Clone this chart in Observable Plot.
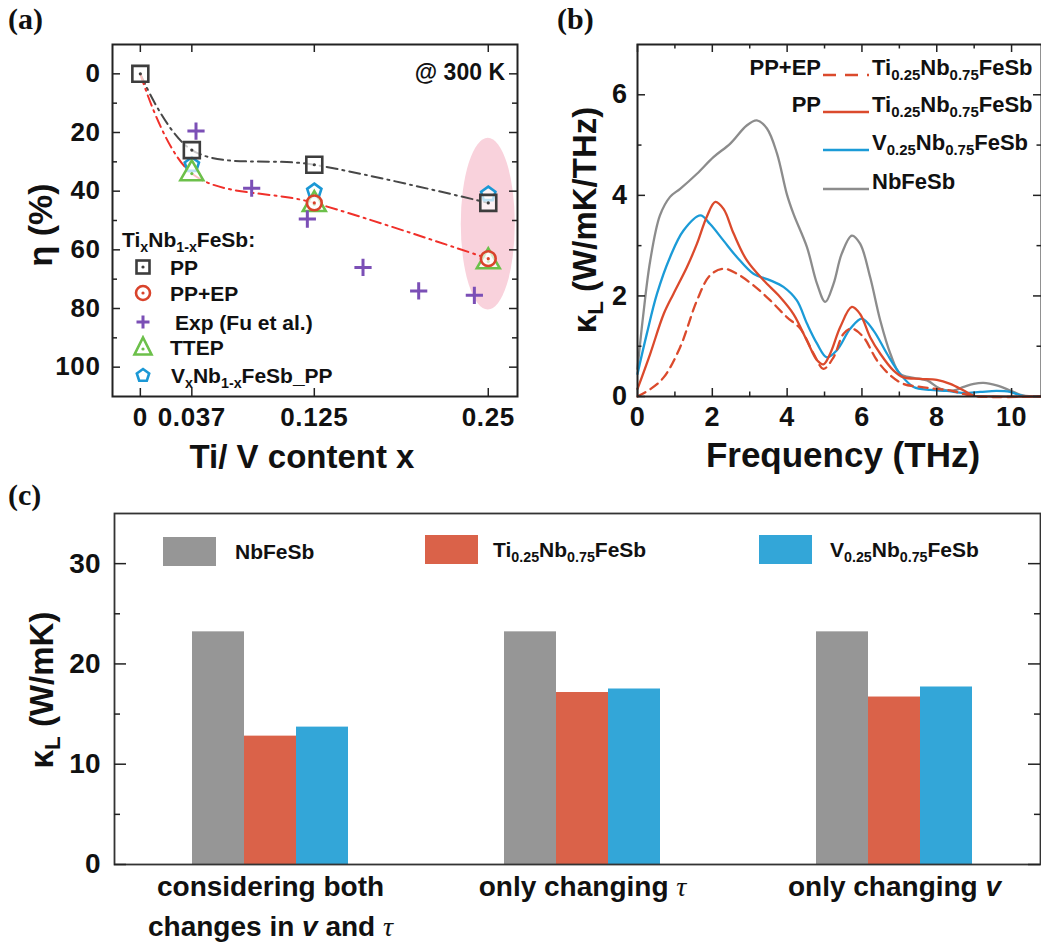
<!DOCTYPE html>
<html><head><meta charset="utf-8">
<script src="https://cdn.jsdelivr.net/npm/d3@7"></script>
<script src="https://cdn.jsdelivr.net/npm/@observablehq/plot@0.6"></script>
<style>
body{margin:0;background:#fff;}
#root{position:relative;width:1041px;height:947px;overflow:hidden;font-family:"Liberation Sans",Arial,sans-serif;font-weight:bold;color:#111;}
.abs{position:absolute;white-space:nowrap;line-height:1;}
.sub{font-size:0.68em;vertical-align:-0.32em;line-height:0;}
.panel{font-family:"Liberation Serif","Times New Roman",serif;font-weight:bold;font-size:30px;}
.plot{position:absolute;}
</style></head><body><div id="root"></div>
<script>
// ================= DATA =================
// Panel (a): eta (%) vs Ti/V content x
const xPP = [0, 0.037, 0.125, 0.25];
const etaPP = [0, 26, 31, 44];
const xPPEPfit = [0, 0.037, 0.125, 0.25];
const etaPPEPfit = [0, 34, 44, 63];
const xPPEP = [0.125, 0.25];
const etaPPEP = [44, 63];
const xExp = [0.040, 0.080, 0.120, 0.160, 0.200, 0.240];
const etaExp = [19.5, 39, 49.5, 66, 74, 75.5];
const xTTEP = [0.037, 0.125, 0.25];
const etaTTEP = [34, 44.5, 64];
const xVPP = [0.037, 0.125, 0.25];
const etaVPP = [31, 40, 41];
const highlightX = [0.2306, 0.2694];
const highlightEta = [22, 80.5];
const xTicksA = [0, 0.037, 0.125, 0.25];
const etaTicks = [0, 20, 40, 60, 80, 100];
const etaMinor = [10, 30, 50, 70, 90];

// Panel (b): spectral kappa_L vs frequency
const freqNb = [0, 0.15, 0.34, 0.6, 0.87, 1.14, 1.59, 2.03, 2.48, 2.92, 3.19, 3.46, 3.73, 3.99, 4.17, 4.53, 4.8, 5.02, 5.24, 5.46, 5.73, 5.95, 6.22, 6.49, 6.76, 7.02, 7.38, 7.74, 8.1, 8.45, 8.72, 8.99, 9.25, 9.6, 9.96, 10.3, 10.8];
const kNb    = [0.55, 1.6, 2.7, 3.6, 3.97, 4.13, 4.43, 4.76, 5.03, 5.39, 5.49, 5.33, 4.83, 4.03, 3.63, 2.97, 2.24, 1.88, 2.24, 2.84, 3.2, 3.04, 2.37, 1.51, 0.85, 0.45, 0.37, 0.32, 0.15, 0.12, 0.19, 0.25, 0.27, 0.22, 0.12, 0.02, 0];
const freqTiPP = [0, 0.34, 0.7, 0.96, 1.32, 1.59, 1.85, 2.08, 2.3, 2.57, 2.92, 3.37, 3.81, 4.17, 4.53, 4.8, 4.97, 5.15, 5.42, 5.73, 5.95, 6.22, 6.49, 6.84, 7.11, 7.56, 8.0, 8.36, 8.72, 8.98, 9.5, 10.8];
const kTiPP    = [0.15, 0.85, 1.64, 2.04, 2.57, 3.04, 3.57, 3.87, 3.73, 3.24, 2.71, 2.31, 1.98, 1.64, 1.11, 0.72, 0.64, 0.85, 1.38, 1.78, 1.64, 1.18, 0.85, 0.52, 0.38, 0.35, 0.33, 0.25, 0.12, 0.02, 0, 0];
const freqTiEP = [0, 0.35, 0.7, 1.14, 1.59, 1.94, 2.3, 2.66, 3.1, 3.55, 3.99, 4.35, 4.71, 4.97, 5.24, 5.51, 5.73, 6.04, 6.4, 6.76, 7.11, 7.56, 8.0, 8.36, 8.72, 9.1, 10.8];
const kTiEP    = [0.0, 0.15, 0.38, 0.98, 1.91, 2.41, 2.54, 2.44, 2.21, 1.91, 1.58, 1.35, 0.85, 0.55, 0.78, 1.25, 1.35, 1.18, 0.72, 0.42, 0.25, 0.19, 0.15, 0.12, 0.05, 0, 0];
const freqV = [0, 0.25, 0.52, 0.87, 1.23, 1.68, 1.94, 2.3, 2.66, 3.1, 3.55, 3.9, 4.26, 4.53, 4.8, 5.06, 5.33, 5.69, 6.0, 6.31, 6.67, 7.02, 7.38, 7.83, 8.27, 8.72, 9.16, 9.6, 9.96, 10.3, 10.8];
const kV    = [0.45, 1.25, 2.04, 2.77, 3.3, 3.6, 3.43, 3.1, 2.77, 2.44, 2.31, 2.18, 1.91, 1.45, 1.05, 0.78, 0.92, 1.35, 1.55, 1.31, 0.85, 0.45, 0.19, 0.13, 0.11, 0.07, 0.09, 0.11, 0.09, 0.01, 0];
const freqTicks = [0, 2, 4, 6, 8, 10];
const freqMinor = [1, 3, 5, 7, 9];
const kTicksB = [0, 2, 4, 6];
const kMinorB = [1, 3, 5];

// Panel (c): kappa_L bars
const groupKeys = ["both", "tau", "v"];
const groupLabels = ["considering both\nchanges in _v_ and _τ_", "only changing _τ_", "only changing _v_"];
const kappaNbFeSb = [23.2, 23.2, 23.2];
const kappaTi = [12.8, 17.15, 16.7];
const kappaV = [13.7, 17.5, 17.7];
const kTicksC = [0, 10, 20, 30];
const kMinorC = [5, 15, 25];

// ================= HELPERS =================
const ns = "http://www.w3.org/2000/svg";
const root = document.getElementById("root");
const FONT = '"Liberation Sans", Arial, sans-serif';
function addDiv(html, css, cls) {
  const d = document.createElement("div");
  d.className = "abs" + (cls ? " " + cls : "");
  d.innerHTML = html;
  Object.assign(d.style, css);
  root.appendChild(d);
  return d;
}
const rows = (xs, ys) => xs.map((x, i) => ({x, y: ys[i]}));
const pentagon = {
  draw(ctx, size) {
    const r = Math.sqrt(size / Math.PI);
    for (let i = 0; i < 5; i++) {
      const a = -Math.PI / 2 + i * 2 * Math.PI / 5;
      const px = r * Math.cos(a), py = r * Math.sin(a);
      if (i) ctx.lineTo(px, py); else ctx.moveTo(px, py);
    }
    ctx.closePath();
  }
};
function frameTicks(fw, fh, opts) {
  const m = [];
  const st = {stroke: "#222", strokeWidth: opts.sw || 1.5};
  if (opts.yMajor) {
    m.push(Plot.tickY(opts.yMajor, {y: d => d, insetRight: fw - opts.major, ...st}));
    m.push(Plot.tickY(opts.yMajor, {y: d => d, insetLeft: fw - opts.major, ...st}));
  }
  if (opts.yMinor) {
    m.push(Plot.tickY(opts.yMinor, {y: d => d, insetRight: fw - opts.minor, ...st}));
    m.push(Plot.tickY(opts.yMinor, {y: d => d, insetLeft: fw - opts.minor, ...st}));
  }
  if (opts.xMajor) {
    m.push(Plot.tickX(opts.xMajor, {x: d => d, insetTop: fh - opts.major, ...st}));
    m.push(Plot.tickX(opts.xMajor, {x: d => d, insetBottom: fh - opts.major, ...st}));
  }
  if (opts.xMinor) {
    m.push(Plot.tickX(opts.xMinor, {x: d => d, insetTop: fh - opts.minor, ...st}));
    m.push(Plot.tickX(opts.xMinor, {x: d => d, insetBottom: fh - opts.minor, ...st}));
  }
  return m;
}
function place(svg, left, top) {
  svg.classList.add("plot");
  svg.style.left = left + "px";
  svg.style.top = top + "px";
  root.appendChild(svg);
}

// ================= PANEL (a) =================
const C = {sq: "#3d3d3d", circ: "#d9432b", plus: "#7b4fb6", tri: "#6cc04a", pent: "#1b98d5", grayLine: "#474747", redLine: "#f0302a"};
const WA = 530, HA = 470, mA = {l: 112, r: 13, t: 44, b: 74};
const fwA = WA - mA.l - mA.r, fhA = HA - mA.t - mA.b;
const highlightMark = (index, scales) => {
  const e = document.createElementNS(ns, "ellipse");
  const x0 = scales.x(highlightX[0]), x1 = scales.x(highlightX[1]);
  const y0 = scales.y(highlightEta[0]), y1 = scales.y(highlightEta[1]);
  e.setAttribute("cx", (x0 + x1) / 2);
  e.setAttribute("cy", (y0 + y1) / 2);
  e.setAttribute("rx", Math.abs(x1 - x0) / 2);
  e.setAttribute("ry", Math.abs(y1 - y0) / 2);
  e.setAttribute("fill", "#f9d2dc");
  return e;
};
const ppR = rows(xPP, etaPP), fitR = rows(xPPEPfit, etaPPEPfit), ppepR = rows(xPPEP, etaPPEP);
const expR = rows(xExp, etaExp), ttepR = rows(xTTEP, etaTTEP), vR = rows(xVPP, etaVPP);
const mkStyle = (fs, ls) => ({fontFamily: FONT, fontWeight: "bold", fontSize: fs + "px", letterSpacing: (ls || 0) + "px", color: "#111", background: "transparent", overflow: "visible"});
const plotA = Plot.plot({
  width: WA, height: HA, marginLeft: mA.l, marginRight: mA.r, marginTop: mA.t, marginBottom: mA.b,
  style: mkStyle(26, 0.6),
  x: {domain: [-0.02, 0.271]},
  y: {domain: [-10, 110], reverse: true},
  marks: [
    highlightMark,
    Plot.line(ppR, {x: "x", y: "y", curve: "catmull-rom", stroke: C.grayLine, strokeWidth: 2, strokeDasharray: "11,5,2,5"}),
    Plot.line(fitR, {x: "x", y: "y", curve: "catmull-rom", stroke: C.redLine, strokeWidth: 2, strokeDasharray: "11,5,2,5"}),
    Plot.dot(vR, {x: "x", y: "y", symbol: pentagon, r: 7.5, stroke: C.pent, strokeWidth: 2.6, fill: "white", fillOpacity: 0.7}),
    Plot.dot(ttepR, {x: "x", y: "y", symbol: "triangle", r: 8.5, stroke: C.tri, strokeWidth: 2.6, fill: "white", fillOpacity: 0.7}),
    Plot.dot(ttepR, {x: "x", y: "y", r: 1.6, fill: C.tri, stroke: "none"}),
    Plot.dot(ppR, {x: "x", y: "y", symbol: "square", r: 9, stroke: C.sq, strokeWidth: 2.6, fill: "white", fillOpacity: 0.7}),
    Plot.dot(ppR, {x: "x", y: "y", r: 1.6, fill: C.sq, stroke: "none"}),
    Plot.dot(ppepR, {x: "x", y: "y", symbol: "circle", r: 7.4, stroke: C.circ, strokeWidth: 2.6, fill: "white", fillOpacity: 0.7}),
    Plot.dot(ppepR, {x: "x", y: "y", r: 1.6, fill: C.circ, stroke: "none"}),
    Plot.dot(expR, {x: "x", y: "y", symbol: "plus", r: 5.6, stroke: C.plus, strokeWidth: 3}),
    Plot.frame({stroke: "#222", strokeWidth: 2}),
    ...frameTicks(fwA, fhA, {yMajor: etaTicks, yMinor: etaMinor, xMajor: xTicksA, major: 8, minor: 5}),
    Plot.axisY({ticks: etaTicks, tickSize: 0, tickPadding: 12, label: null}),
    Plot.axisX({ticks: xTicksA, tickSize: 0, tickPadding: 11, tickFormat: d => String(d), label: null})
  ]
});
place(plotA, 0, 0);

// ================= PANEL (b) =================
const CB = {gray: "#8c8c8c", red: "#db4a2c", blue: "#1b9bd7"};
const WB = 511, HB = 470, mB = {l: 107, r: 0, t: 44, b: 74};
const fwB = WB - mB.l - mB.r, fhB = HB - mB.t - mB.b;
const plotB = Plot.plot({
  width: WB, height: HB, marginLeft: mB.l, marginRight: mB.r, marginTop: mB.t, marginBottom: mB.b,
  style: mkStyle(27, 0.5),
  x: {domain: [0, 10.8]},
  y: {domain: [0, 7]},
  marks: [
    Plot.line(rows(freqNb, kNb), {x: "x", y: "y", curve: "catmull-rom", stroke: CB.gray, strokeWidth: 2.3}),
    Plot.line(rows(freqV, kV), {x: "x", y: "y", curve: "catmull-rom", stroke: CB.blue, strokeWidth: 2.3}),
    Plot.line(rows(freqTiPP, kTiPP), {x: "x", y: "y", curve: "catmull-rom", stroke: CB.red, strokeWidth: 2.3}),
    Plot.line(rows(freqTiEP, kTiEP), {x: "x", y: "y", curve: "catmull-rom", stroke: CB.red, strokeWidth: 2.3, strokeDasharray: "9,6"}),
    Plot.frame({stroke: "#222", strokeWidth: 2}),
    ...frameTicks(fwB, fhB, {yMajor: kTicksB, yMinor: kMinorB, xMajor: freqTicks, xMinor: freqMinor, major: 8, minor: 4.5}),
    Plot.axisY({ticks: kTicksB, tickSize: 0, tickPadding: 10, tickFormat: d => String(d), label: null}),
    Plot.axisX({ticks: freqTicks, tickSize: 0, tickPadding: 10, tickFormat: d => String(d), label: null})
  ]
});
place(plotB, 530, 0);

// ================= PANEL (c) =================
const CC = {gray: "#969696", red: "#da6249", blue: "#33a6d8"};
const WC = 1041, HC = 467, mC = {l: 114, r: 1, t: 33, b: 83};
const fwC = WC - mC.l - mC.r, fhC = HC - mC.t - mC.b;
const plotC = Plot.plot({
  width: WC, height: HC, marginLeft: mC.l, marginRight: mC.r, marginTop: mC.t, marginBottom: mC.b,
  style: mkStyle(28),
  x: {domain: groupKeys, range: [114, 1050], padding: 0},
  y: {domain: [0, 35]},
  marks: [
    Plot.barY(groupKeys, {x: d => d, y: (d, i) => kappaNbFeSb[i], fill: CC.gray, insetLeft: 78, insetRight: 182}),
    Plot.barY(groupKeys, {x: d => d, y: (d, i) => kappaTi[i], fill: CC.red, insetLeft: 130, insetRight: 130}),
    Plot.barY(groupKeys, {x: d => d, y: (d, i) => kappaV[i], fill: CC.blue, insetLeft: 182, insetRight: 78}),
    Plot.frame({stroke: "#333", strokeWidth: 1.8}),
    ...frameTicks(fwC, fhC, {yMajor: kTicksC, yMinor: kMinorC, major: 12, minor: 6}),
    Plot.axisY({ticks: kTicksC, tickSize: 0, tickPadding: 14, label: null}),
    Plot.axisX({tickSize: 0, tickPadding: 3, fontSize: 28, lineHeight: 1.43, tickFormat: k => groupLabels[groupKeys.indexOf(k)], label: null})
  ]
});
// italic v and tau in tick labels
plotC.querySelectorAll("text").forEach(t => {
  const tsp = t.querySelectorAll("tspan");
  const targets = tsp.length ? [...tsp] : [t];
  targets.forEach(el => {
    const s = el.textContent;
    if (!s.includes("_")) return;
    el.textContent = "";
    s.split(/(_[^_]+_)/).forEach(part => {
      if (!part) return;
      if (part.length > 2 && part[0] === "_" && part[part.length - 1] === "_") {
        const sp = document.createElementNS(ns, "tspan");
        const c = part.slice(1, -1);
        sp.textContent = c;
        sp.setAttribute("font-style", "italic");
        if (c === "τ") { sp.setAttribute("font-family", "Liberation Serif, serif"); sp.setAttribute("font-weight", "normal"); }
        el.appendChild(sp);
      } else el.appendChild(document.createTextNode(part));
    });
  });
});
place(plotC, 0, 480);

// ================= TEXT OVERLAYS =================
addDiv("(a)", {left: "8px", top: "4px"}, "panel");
addDiv("(b)", {left: "557px", top: "4px"}, "panel");
addDiv("(c)", {left: "8px", top: "480px"}, "panel");

// axis titles
const rot = (html, cx, cy, fs) => addDiv(html, {left: cx + "px", top: cy + "px", fontSize: fs + "px", transform: "translate(-50%,-50%) rotate(-90deg)"});
rot("η (%)", 40, 225, 34);
rot('κ<span class="sub">L</span> (W/mK/THz)', 584, 220, 33);
rot('κ<span class="sub">L</span> (W/mK)', 41, 690, 33);
addDiv("Ti/ V content x", {left: "302px", top: "440px", fontSize: "33px", transform: "translateX(-50%)"});
addDiv("Frequency (THz)", {left: "843px", top: "437px", fontSize: "35px", transform: "translateX(-50%)"});

// @ 300 K
addDiv("@ 300 K", {right: (1041 - 505) + "px", top: (72 - 11.5) + "px", fontSize: "23px"});

// legend (a)
const fsA = 21;
addDiv('Ti<span class="sub">x</span>Nb<span class="sub">1-x</span>FeSb:', {left: "122px", top: (239 - fsA / 2) + "px", fontSize: fsA + "px"});
const iconA = {
  sq: `<rect x="5.5" y="5.5" width="13" height="13" fill="white" stroke="${C.sq}" stroke-width="2.6"/><circle cx="12" cy="12" r="1.6" fill="${C.sq}"/>`,
  circ: `<circle cx="12" cy="12" r="7" fill="white" stroke="${C.circ}" stroke-width="2.6"/><circle cx="12" cy="12" r="1.6" fill="${C.circ}"/>`,
  plus: `<path d="M12 5.5V18.5M5.5 12H18.5" stroke="${C.plus}" stroke-width="3"/>`,
  tri: `<path d="M12 2.5L20.5 19.5H3.5Z" fill="white" stroke="${C.tri}" stroke-width="2.6"/><circle cx="12" cy="14" r="1.6" fill="${C.tri}"/>`,
  pent: `<path d="${(() => {let p = ""; for (let i = 0; i < 5; i++) {const a = -Math.PI / 2 + i * 2 * Math.PI / 5; p += (i ? "L" : "M") + (12 + 6.5 * Math.cos(a)).toFixed(2) + " " + (12.5 + 6.5 * Math.sin(a)).toFixed(2);} return p + "Z";})()}" fill="white" stroke="${C.pent}" stroke-width="2.6"/>`
};
const legA = [
  ["sq", "PP", 267, 170],
  ["circ", "PP+EP", 293, 170],
  ["plus", "Exp (Fu et al.)", 322, 175],
  ["tri", "TTEP", 347, 170],
  ["pent", 'V<span class="sub">x</span>Nb<span class="sub">1-x</span>FeSb_PP', 375, 171]
];
legA.forEach(([ic, label, cy, tx]) => {
  addDiv(`<svg width="24" height="24" viewBox="0 0 24 24">${iconA[ic]}</svg>`, {left: (143 - 12) + "px", top: (cy - 12) + "px"});
  addDiv(label, {left: tx + "px", top: (cy - fsA / 2) + "px", fontSize: fsA + "px"});
});

// legend (b)
const fsB = 22;
const tiLab = 'Ti<span class="sub">0.25</span>Nb<span class="sub">0.75</span>FeSb';
const vLab = 'V<span class="sub">0.25</span>Nb<span class="sub">0.75</span>FeSb';
const legB = [
  ["PP+EP", tiLab, CB.red, "13,9", 68],
  ["PP", tiLab, CB.red, null, 105],
  ["", vLab, CB.blue, null, 143],
  ["", "NbFeSb", CB.gray, null, 182]
];
legB.forEach(([pre, label, col, dash, cy]) => {
  if (pre) addDiv(pre, {right: (1041 - 821) + "px", top: (cy - fsB / 2) + "px", fontSize: fsB + "px"});
  addDiv(`<svg width="46" height="6"><line x1="0" y1="3" x2="46" y2="3" stroke="${col}" stroke-width="2.6" ${dash ? `stroke-dasharray="${dash}"` : ""}/></svg>`, {left: "823px", top: (cy - 3) + "px"});
  addDiv(label, {left: "872px", top: (cy - fsB / 2) + "px", fontSize: fsB + "px"});
});

// legend (c)
const fsC = 21;
const legC = [
  [CC.gray, "NbFeSb", 163, 235, 551],
  [CC.red, tiLab, 425, 493, 549],
  [CC.blue, vLab, 759, 830, 549]
];
legC.forEach(([col, label, rx, tx, cy]) => {
  addDiv("", {left: rx + "px", top: (cy - 14.5) + "px", width: "53px", height: "29px", background: col});
  addDiv(label, {left: tx + "px", top: (cy - fsC / 2) + "px", fontSize: fsC + "px"});
});
</script></body></html>
